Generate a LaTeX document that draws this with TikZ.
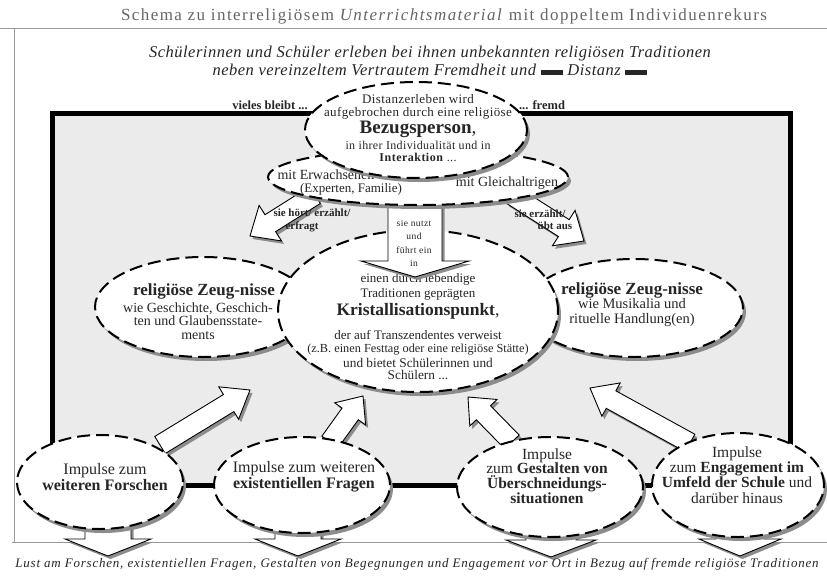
\documentclass[tikz,border=0pt]{standalone}
\usepackage{fontspec}
\setmainfont{Liberation Serif}
\newfontfamily\lsfont[LetterSpace=4]{Liberation Serif}
\newfontfamily\lsthree[LetterSpace=3]{Liberation Serif}
\newfontfamily\titlefont[LetterSpace=8.5]{Liberation Serif}
\newfontfamily\botfont[LetterSpace=6]{Liberation Serif}
\usetikzlibrary{shapes.geometric,shadows,calc}
\newcommand\fs[2]{\fontsize{#1}{#2}\selectfont}
\newcommand\distbar{\raisebox{0.15ex}{\rule{22pt}{4.5pt}}}
% block arrow: tail, tip, half shaft, half head, head length
\newcommand\barrow[5]{%
  \path[blockarrow] let \p1=(#1), \p2=(#2),
    \n1={atan2(\y2-\y1,\x2-\x1)}, \n2={veclen(\x2-\x1,\y2-\y1)} in
    ($(\p1)+(\n1+90:#3pt)$)
    -- ($(\p1)+(\n1:\n2-#5pt)+(\n1+90:#3pt)$)
    -- ($(\p1)+(\n1:\n2-#5pt)+(\n1+90:#4pt)$)
    -- (\p2)
    -- ($(\p1)+(\n1:\n2-#5pt)+(\n1-90:#4pt)$)
    -- ($(\p1)+(\n1:\n2-#5pt)+(\n1-90:#3pt)$)
    -- ($(\p1)+(\n1-90:#3pt)$) -- cycle;}
\tikzset{
  dashell/.style={ellipse, draw=black, line width=2pt, dash pattern=on 13pt off 6pt,
    fill=white, inner sep=0pt,
    drop shadow={shadow xshift=3pt, shadow yshift=-4pt, fill=black!45, opacity=1}},
  blockarrow/.style={draw=black, line width=0.9pt, fill=white, line join=miter,
    drop shadow={shadow xshift=2.5pt, shadow yshift=-3pt, fill=black!45, opacity=1}},
  txt/.style={align=center, inner sep=0pt, text=black!85},
  pageline/.style={draw=black!40, line width=0.7pt},
  frameline/.style={draw=black, line width=5pt, fill=black!8},
  smallbold/.style={inner sep=0pt, font=\bfseries\fs{11}{12}, text=black!85},
}
\begin{document}
\begin{tikzpicture}[x=1pt,y=-1pt]
\useasboundingbox (0,0) rectangle (827,576);
\fill[white] (0,0) rectangle (827,576);

% page lines
\draw[pageline] (0,28) -- (827,28);
\draw[pageline] (14,28) -- (14,542);
\draw[pageline] (12,542) -- (827,542);

% title and subtitle
\node[inner sep=0pt, font=\titlefont\fs{17}{19}, text=black!60] (title) at (444,16)
  {Schema zu interreligiösem \textit{Unterrichtsmaterial} mit doppeltem Individuenrekurs};
\node[txt, font=\lsthree\itshape\fs{16.5}{18.5}] (sub) at (430,61)
  {Schülerinnen und Schüler erleben bei ihnen unbekannten religiösen Traditionen\\
   neben vereinzeltem Vertrautem Fremdheit und \distbar\ Distanz \distbar};

% frame
\draw[frameline] (52,113) rectangle (790,485);
\node[smallbold, font=\bfseries\fs{12.5}{14}] (vieles) at (270,105) {vieles bleibt ...};
\node[smallbold, font=\bfseries\fs{12.5}{14}] (fremd) at (542,105) {... fremd};

% side ellipses
\node[dashell, minimum width=216pt, minimum height=100pt] (zl) at (203,307) {};
\node[txt, font=\bfseries\fs{17}{19}] (zlt) at (204,291) {religiöse Zeug-nisse};
\node[txt, font=\fs{14}{13.5}] (zlb) at (198,321)
  {wie Geschichte, Geschich-\\ten und Glaubensstate-\\ments};
\node[dashell, minimum width=218pt, minimum height=98pt] (zr) at (634,308) {};
\node[txt, font=\bfseries\fs{17}{19}] (zrt) at (632,290) {religiöse Zeug-nisse};
\node[txt, font=\fs{14.5}{15}] (zrb) at (632,313) {wie Musikalia und\\rituelle Handlung(en)};

% arrows from bottom ellipses
\coordinate (a1s) at (160,445); \coordinate (a1e) at (250,390);
\coordinate (a2s) at (330,442); \coordinate (a2e) at (363,396);
\coordinate (a3s) at (512,442); \coordinate (a3e) at (468,397);
\coordinate (a4s) at (690,443); \coordinate (a4e) at (590,388);
\barrow{a1s}{a1e}{10}{19}{25}
\barrow{a2s}{a2e}{10}{19}{22}
\barrow{a3s}{a3e}{10}{19}{22}
\barrow{a4s}{a4e}{10}{19}{24}

% central ellipse
\node[dashell, minimum width=280pt, minimum height=162pt] (kp) at (418,311) {};
\node[txt, font=\fs{13}{15}] (kpa) at (418,287) {einen durch lebendige\\Traditionen geprägten};
\node[txt, font=\fs{17.5}{20}] (kpb) at (418,311) {\textbf{Kristallisationspunkt},};
\node[txt, font=\fs{13}{14}] (kpc) at (418,335) {der auf Transzendentes verweist};
\node[txt, font=\fs{12.3}{13}] (kpd) at (418,350) {(z.B. einen Festtag oder eine religiöse Stätte)};
\node[txt, font=\fs{13.3}{12.5}] (kpe) at (418,369) {und bietet Schülerinnen und\\Schülern ...};

% arrows from the person group
\coordinate (tls) at (315,195); \coordinate (tle) at (250,236);
\coordinate (tcs) at (415,195); \coordinate (tce) at (415,277);
\coordinate (trs) at (512,195); \coordinate (tre) at (584,241);
\barrow{tls}{tle}{10}{21}{24}
\barrow{trs}{tre}{10}{21}{24}
\barrow{tcs}{tce}{27}{54}{16}
\node[smallbold] (tlt1) at (312,213) {sie hört/ erzählt/};
\node[smallbold] (tlt2) at (302,227) {erfragt};
\node[smallbold] (trt1) at (540,214) {sie erzählt/};
\node[smallbold] (trt2) at (555,226) {übt aus};
\node[txt, font=\lsfont\fs{9.5}{13.5}] (tct) at (414,243.5) {sie nutzt\\und\\führt ein\\in};

% person ellipses
\node[dashell, minimum width=300pt, minimum height=56pt] (erw) at (418,177) {};
\node[txt, font=\fs{14}{15}] (erw1) at (326,175) {mit Erwachsenen};
\node[txt, font=\fs{13}{15}] (erw2) at (351,189) {(Experten, Familie)};
\node[txt, font=\fs{14}{15}] (erw3) at (507,183) {mit Gleichaltrigen};
\node[dashell, minimum width=222pt, minimum height=96pt] (bez) at (416,130) {};
\node[txt, font=\lsthree\fs{13}{13}] (beza) at (418,106.5) {Distanzerleben wird\\aufgebrochen durch eine religiöse};
\node[txt, font=\fs{19}{21}] (bezb) at (418,129) {\textbf{Bezugsperson},};
\node[txt, font=\lsthree\fs{12}{12}] (bezc) at (418,151) {in ihrer Individualität und in\\\textbf{\lsfont Interaktion} ...};

% downward arrows below the bottom ellipses
\coordinate (d1s) at (108,515); \coordinate (d1e) at (108,556);
\coordinate (d2s) at (298,515); \coordinate (d2e) at (298,556);
\coordinate (d3s) at (551,515); \coordinate (d3e) at (551,557);
\coordinate (d4s) at (740,515); \coordinate (d4e) at (740,556);
\barrow{d1s}{d1e}{23}{43}{17}
\barrow{d2s}{d2e}{23}{43}{17}
\barrow{d3s}{d3e}{25}{45}{17}
\barrow{d4s}{d4e}{24}{41}{17}

% bottom ellipses
\node[dashell, minimum width=166pt, minimum height=94pt] (e1) at (100,482) {};
\node[txt, font=\fs{16}{16}] (e1t) at (105,477) {Impulse zum\\\textbf{weiteren Forschen}};
\node[dashell, minimum width=176pt, minimum height=96pt] (e2) at (302,485) {};
\node[txt, font=\fs{16}{16}] (e2t) at (304,477) {Impulse zum weiteren\\\textbf{existentiellen Fragen}};
\node[dashell, minimum width=186pt, minimum height=100pt] (e3) at (550,487) {};
\node[txt, font=\fs{15.5}{14.8}] (e3t) at (547,476)
  {Impulse\\zum \textbf{Gestalten von}\\\textbf{Überschneidungs-}\\\textbf{situationen}};
\node[dashell, minimum width=172pt, minimum height=104pt] (e4) at (738,485) {};
\node[txt, font=\fs{15.5}{15.3}] (e4t) at (737,475)
  {Impulse\\zum \textbf{Engagement im}\\\textbf{Umfeld der Schule} und\\darüber hinaus};

% bottom line
\node[inner sep=0pt, font=\botfont\itshape\fs{13}{15}, text=black!85] (lust) at (417,564)
  {Lust am Forschen, existentiellen Fragen, Gestalten von Begegnungen und Engagement vor Ort in Bezug auf fremde religiöse Traditionen};
\end{tikzpicture}
\end{document}
